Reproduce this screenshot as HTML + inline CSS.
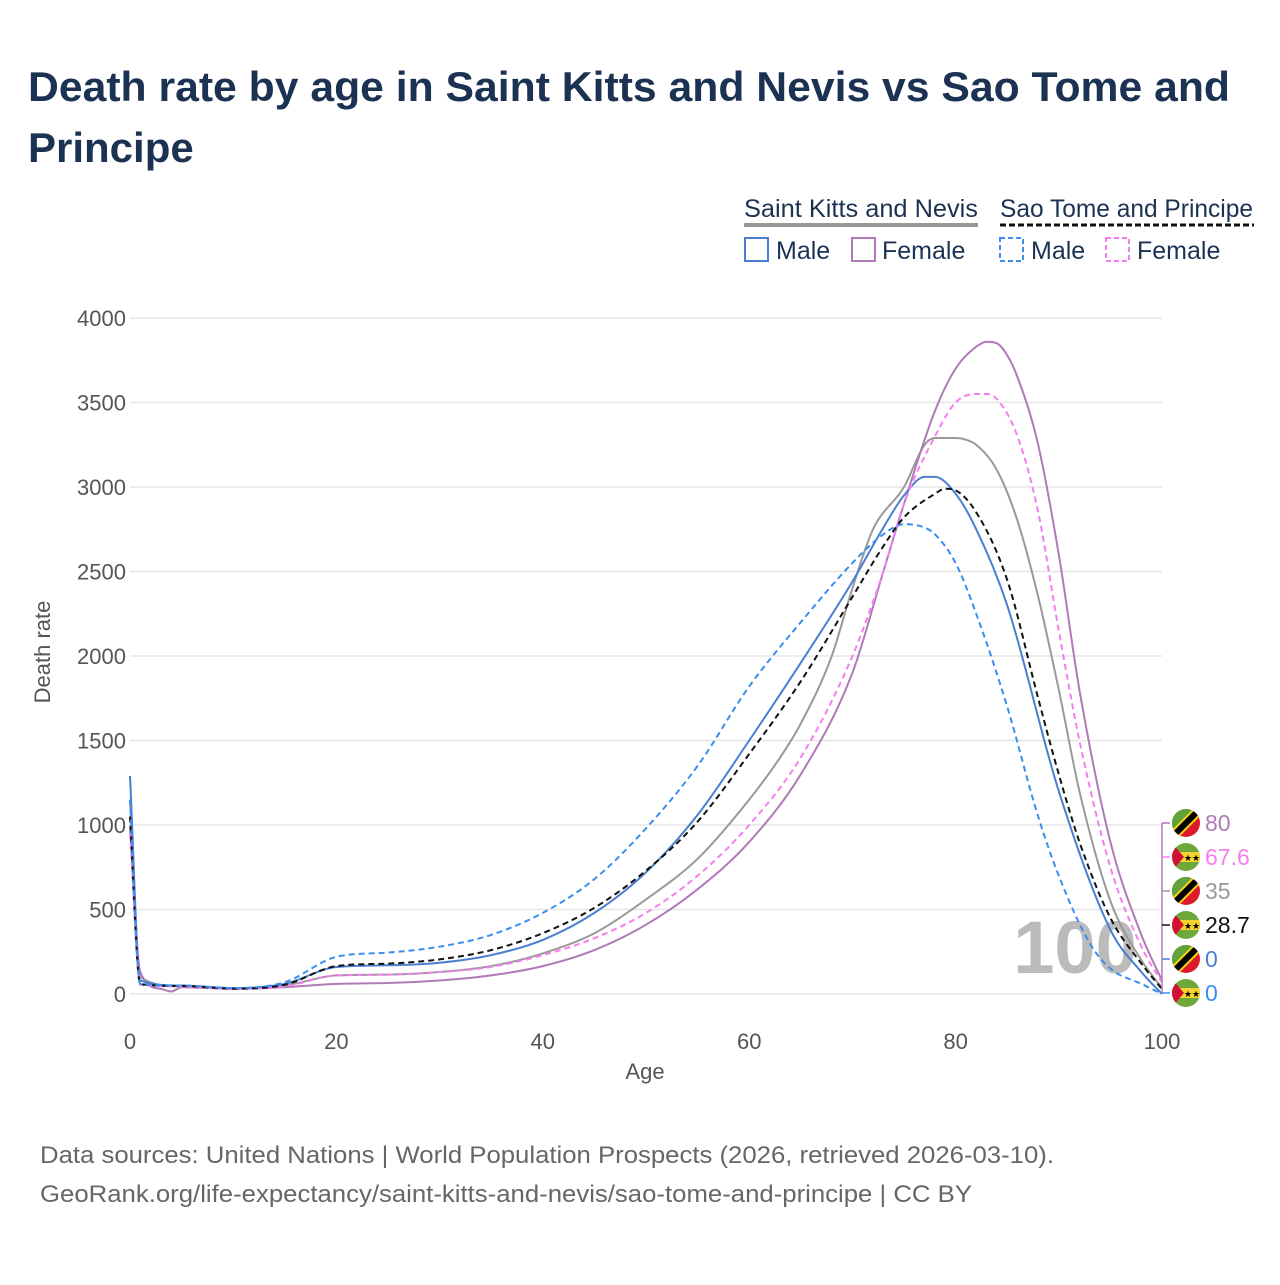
<!DOCTYPE html>
<html><head><meta charset="utf-8"><style>
body{margin:0;background:#fff;font-family:"Liberation Sans",sans-serif;}
svg text{font-family:"Liberation Sans",sans-serif;}
</style></head><body>
<svg id="c" width="1280" height="1280" viewBox="0 0 1280 1280">
<defs><clipPath id="fc"><circle cx="0" cy="0" r="14"/></clipPath></defs>
<text x="28" y="101" font-size="42" font-weight="bold" fill="#1b3252" textLength="1202" lengthAdjust="spacingAndGlyphs">Death rate by age in Saint Kitts and Nevis vs Sao Tome and</text>
<text x="28" y="162" font-size="42" font-weight="bold" fill="#1b3252">Principe</text>
<g font-size="25" fill="#1b3252">
<text x="744" y="217" textLength="234" lengthAdjust="spacingAndGlyphs">Saint Kitts and Nevis</text>
<line x1="744" y1="225" x2="978" y2="225" stroke="#999" stroke-width="4"/>
<text x="1000" y="217" textLength="253" lengthAdjust="spacingAndGlyphs">Sao Tome and Principe</text>
<line x1="1000" y1="225" x2="1254" y2="225" stroke="#111" stroke-width="3" stroke-dasharray="6,3"/>
<rect x="745" y="238" width="23" height="23" fill="none" stroke="#4a7fd0" stroke-width="2"/>
<text x="776" y="259">Male</text>
<rect x="852" y="238" width="23" height="23" fill="none" stroke="#b07ab8" stroke-width="2"/>
<text x="882" y="259">Female</text>
<rect x="1000" y="238" width="23" height="23" fill="none" stroke="#3a8ef0" stroke-width="2" stroke-dasharray="5,3"/>
<text x="1031" y="259">Male</text>
<rect x="1106" y="238" width="23" height="23" fill="none" stroke="#f57ef0" stroke-width="2" stroke-dasharray="5,3"/>
<text x="1137" y="259">Female</text>
</g>
<g id="grid"></g>
<text x="1075" y="973" font-size="74" font-weight="bold" fill="#bbb" text-anchor="middle">100</text>
<g id="lines"></g>
<g id="labels"></g>
<text x="645" y="1079" font-size="22" fill="#555" text-anchor="middle">Age</text>
<text x="0" y="0" font-size="22" fill="#555" text-anchor="middle" transform="translate(50,652) rotate(-90)">Death rate</text>
<text x="40" y="1163" font-size="24" fill="#666" textLength="1014" lengthAdjust="spacingAndGlyphs">Data sources: United Nations | World Population Prospects (2026, retrieved 2026-03-10).</text>
<text x="40" y="1202" font-size="24" fill="#666" textLength="932" lengthAdjust="spacingAndGlyphs">GeoRank.org/life-expectancy/saint-kitts-and-nevis/sao-tome-and-principe | CC BY</text>
</svg>
<script>
const yTicks=[0,500,1000,1500,2000,2500,3000,3500,4000];
const xTicks=[0,20,40,60,80,100];
const sknMaleAges=[0,1,5,10,15,20,25,30,35,40,45,50,55,60,65,70,73,75,77,78,80,82,85,90,95,98,100];
const sknMale=[1290,80,50,35,60,160,170,185,230,320,480,720,1060,1500,1960,2440,2760,2950,3060,3060,2960,2750,2300,1200,380,130,0];
const sknFemaleAges=[0,1,3,4,5,10,15,20,25,30,35,40,45,50,55,60,65,70,73,75,78,80,82,83,84,85,86,88,90,92,95,98,100];
const sknFemale=[1000,130,30,15,40,30,40,60,65,80,110,165,260,410,620,900,1300,1900,2500,2900,3450,3700,3830,3860,3850,3780,3650,3250,2600,1800,900,350,80];
const sknTotalAges=[0,1,5,10,15,20,25,30,35,40,45,50,55,60,63,65,68,70,72,75,77,78,80,81,82,84,86,88,90,92,95,98,100];
const sknTotal=[1150,100,45,32,50,110,115,130,165,240,360,560,800,1150,1400,1600,2000,2400,2750,3000,3250,3290,3290,3280,3250,3100,2800,2350,1800,1200,550,200,35];
const stpMaleAges=[0,1,5,10,15,20,25,30,35,40,45,50,55,60,65,70,73,75,77,78,80,82,85,88,90,93,95,98,100];
const stpMale=[1150,60,50,35,70,220,245,280,350,480,680,980,1350,1820,2200,2550,2720,2780,2760,2720,2550,2250,1700,1050,700,300,150,60,0];
const stpFemaleAges=[0,1,5,10,15,20,25,30,35,40,45,50,55,60,65,70,73,75,78,80,82,83,84,86,88,90,92,95,98,100];
const stpFemale=[950,55,45,30,45,110,115,130,160,230,330,480,700,1000,1400,2000,2500,2900,3300,3500,3550,3550,3520,3300,2850,2150,1500,750,280,68];
const stpTotalAges=[0,1,5,10,15,20,25,30,35,40,45,50,55,60,65,70,73,75,78,79,80,82,85,88,90,92,95,98,100];
const stpTotal=[1050,58,48,32,55,165,180,205,260,360,510,730,1020,1420,1850,2350,2650,2820,2960,2990,2980,2850,2450,1750,1300,900,450,180,29];
const endLabels=["80","67.6","35","28.7","0","0"];
const NS="http://www.w3.org/2000/svg";
const X=a=>130+a*10.32, Y=v=>994-v*0.169;
function mk(t,attrs,parent){const e=document.createElementNS(NS,t);for(const k in attrs)e.setAttribute(k,attrs[k]);parent.appendChild(e);return e;}
const grid=document.getElementById('grid');
yTicks.forEach(v=>{
 const l=mk('line',{x1:130,x2:1162,y1:Y(v),y2:Y(v),stroke:'#e6e6e6','stroke-width':1.5},grid);
 
 
 const t=mk('text',{x:126,y:Y(v)+8,'font-size':22,fill:'#555','text-anchor':'end'},grid);
 t.textContent=v;
 
 
});
xTicks.forEach(v=>{
 const t=mk('text',{x:X(v),y:1049,'font-size':22,fill:'#555','text-anchor':'middle'},grid);
 t.textContent=v;
 
 
});
function path(ages,vals){
 const xs=ages.map(X), ys=vals.map(Y), n=xs.length;
 const d=[],m=new Array(n);
 for(let i=0;i<n-1;i++)d.push((ys[i+1]-ys[i])/(xs[i+1]-xs[i]));
 m[0]=d[0];m[n-1]=d[n-2];
 for(let i=1;i<n-1;i++){m[i]=(d[i-1]*d[i]<=0)?0:(d[i-1]+d[i])/2;}
 for(let i=0;i<n-1;i++){
  if(d[i]===0){m[i]=0;m[i+1]=0;continue;}
  const a=m[i]/d[i],b=m[i+1]/d[i],s=a*a+b*b;
  if(s>9){const t=3/Math.sqrt(s);m[i]=t*a*d[i];m[i+1]=t*b*d[i];}
 }
 let p='M'+xs[0]+','+ys[0];
 for(let i=0;i<n-1;i++){
  const h=(xs[i+1]-xs[i])/3;
  p+=` C${(xs[i]+h).toFixed(1)},${(ys[i]+m[i]*h).toFixed(1)} ${(xs[i+1]-h).toFixed(1)},${(ys[i+1]-m[i+1]*h).toFixed(1)} ${xs[i+1].toFixed(1)},${ys[i+1].toFixed(1)}`;
 }
 return p;
}
const lines=document.getElementById('lines');
const series=[
 [sknTotalAges,sknTotal,'#999','','skn-total-line'],
 [sknFemaleAges,sknFemale,'#b07ab8','','skn-female-line'],
 [sknMaleAges,sknMale,'#4a7fd0','','skn-male-line'],
 [stpFemaleAges,stpFemale,'#f57ef0','6,4','stp-female-line'],
 [stpTotalAges,stpTotal,'#111','6,4','stp-total-line'],
 [stpMaleAges,stpMale,'#3a8ef0','6,4','stp-male-line']];
series.forEach(s=>{
 const e=mk('path',{d:path(s[0],s[1]),fill:'none',stroke:s[2],'stroke-width':2,'stroke-dasharray':s[3]},lines);
 
 
});
const lab=document.getElementById('labels');
const lcol=['#b07ab8','#f57ef0','#999','#111','#4a7fd0','#3a8ef0'];
const flags=['skn','stp','skn','stp','skn','stp'];
mk('line',{x1:1162,x2:1162,y1:823,y2:994,stroke:'#b07ab8','stroke-width':1.5},lab);
endLabels.forEach((t,i)=>{
 const y=823+i*34;
 mk('line',{x1:1162,x2:1170,y1:y,y2:y,stroke:lcol[i],'stroke-width':1.5},lab);
 const g=mk('g',{transform:`translate(1186,${y})`},lab);
 
 
 const gi=mk('g',{'clip-path':'url(#fc)'},g);
 if(flags[i]==='skn'){
  mk('rect',{x:-15,y:-15,width:30,height:30,fill:'#dd1b2c'},gi);
  mk('path',{d:'M-15,15 L-15,-15 L15,-15 Z',fill:'#5ea33b'},gi);
  mk('line',{x1:-15,y1:15,x2:15,y2:-15,stroke:'#fcd116','stroke-width':10},gi);
  mk('line',{x1:-15,y1:15,x2:15,y2:-15,stroke:'#000','stroke-width':6},gi);
 }else{
  mk('rect',{x:-15,y:-15,width:30,height:30,fill:'#6ea83a'},gi);
  mk('rect',{x:-15,y:-5,width:30,height:10,fill:'#f5d230'},gi);
  mk('path',{d:'M-15,-15 L-2,0 L-15,15 Z',fill:'#d21034'},gi);
  const s=mk('text',{x:6,y:4,'font-size':9,'text-anchor':'middle',fill:'#000'},gi);s.textContent='★★';
 }
 const tx=mk('text',{x:1205,y:y+8,'font-size':23,fill:lcol[i]},lab);
 tx.textContent=t;
 
 
});
</script>
</body></html>
